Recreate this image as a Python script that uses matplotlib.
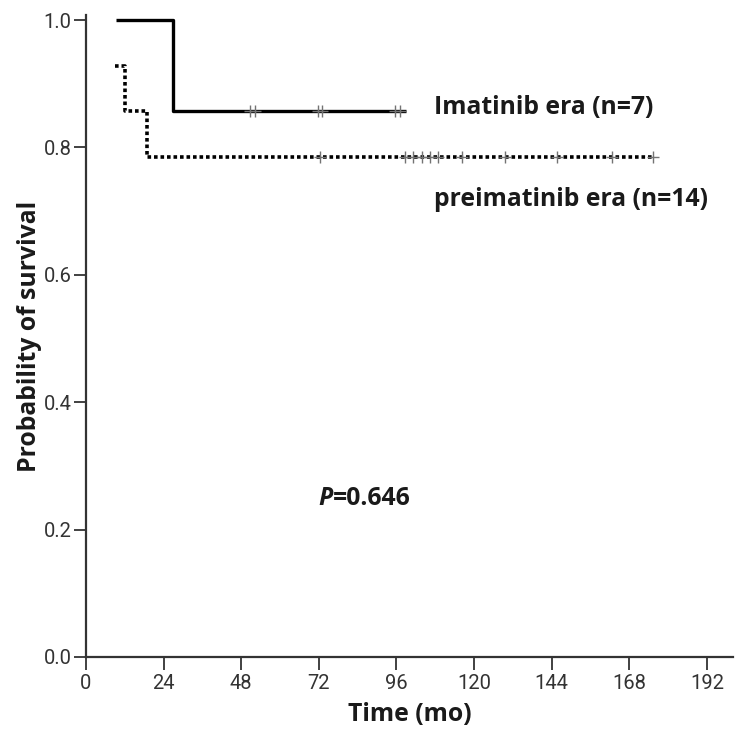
import matplotlib
matplotlib.use("Agg")
import matplotlib.pyplot as plt

# Kaplan-Meier steps (months, survival)
imat_t = [9.3, 27.0, 99.0]
imat_s = [1.0, 6 / 7, 6 / 7]
imat_cens_t = [50.8, 52.3, 71.6, 73.0, 95.6, 97.1]

pre_t = [9.0, 12.0, 18.8, 175.3]
pre_s = [13 / 14, 12 / 14, 11 / 14, 11 / 14]
pre_cens_t = [72.4, 98.6, 101.1, 103.9, 106.4, 108.9, 116.2, 129.6, 145.6, 162.6, 175.3]

x_ticks = [0, 24, 48, 72, 96, 120, 144, 168, 192]
y_ticks = [0.0, 0.2, 0.4, 0.6, 0.8, 1.0]

LABEL_FONT = ["Open Sans", "DejaVu Sans"]
TICK_FONT = ["Roboto", "DejaVu Sans"]

fig = plt.figure(figsize=(7.44, 7.30), dpi=100)
ax = fig.add_axes([0.1156, 0.10, 0.8694, 0.8795])

ax.step(imat_t, imat_s, where="post", color="black", lw=2.4, solid_capstyle="butt")
ax.plot(imat_cens_t, [imat_s[-1]] * len(imat_cens_t), ls="none", marker="+",
        ms=8, mew=1.0, color="0.45")

ax.step(pre_t, pre_s, where="post", color="black", lw=2.6, ls=(0, (1.0, 0.8)),
        dash_capstyle="butt")
ax.plot(pre_cens_t, [pre_s[-1]] * len(pre_cens_t), ls="none", marker="+",
        ms=8, mew=1.0, color="0.45")

txt = dict(fontsize=17.8, fontweight="bold", family=LABEL_FONT, color="#1a1a1a")
ax.text(107.6, 0.863, "Imatinib era (n=7)", va="center", ha="left", **txt)
ax.text(107.6, 0.718, "preimatinib era (n=14)", va="center", ha="left", **txt)
ax.text(71.7, 0.249, "P", va="center", ha="left", style="italic", **txt)
ax.text(71.7 + 4.6, 0.249, "=0.646", va="center", ha="left", **txt)

ax.set_xlim(0, 200)
ax.set_ylim(0, 1.008)
ax.set_xticks(x_ticks)
ax.set_yticks(y_ticks)
ax.set_xticklabels([str(v) for v in x_ticks], family=TICK_FONT, fontsize=14.5, color="#333333")
ax.set_yticklabels([f"{v:.1f}" for v in y_ticks], family=TICK_FONT, fontsize=14.5, color="#333333")
ax.tick_params(direction="out", length=9, width=1.3, color="#333333")
ax.tick_params(axis="x", pad=3)
ax.tick_params(axis="y", pad=1.5)

for side in ("top", "right"):
    ax.spines[side].set_visible(False)
for side in ("left", "bottom"):
    ax.spines[side].set_linewidth(1.6)
    ax.spines[side].set_color("#333333")

ax.set_xlabel("Time (mo)", fontsize=17.8, fontweight="bold", family=LABEL_FONT,
              color="#1a1a1a", labelpad=7)
ax.set_ylabel("Probability of survival", fontsize=17.8, fontweight="bold", family=LABEL_FONT,
              color="#1a1a1a", labelpad=1)

fig.savefig("out.png", dpi=100)
